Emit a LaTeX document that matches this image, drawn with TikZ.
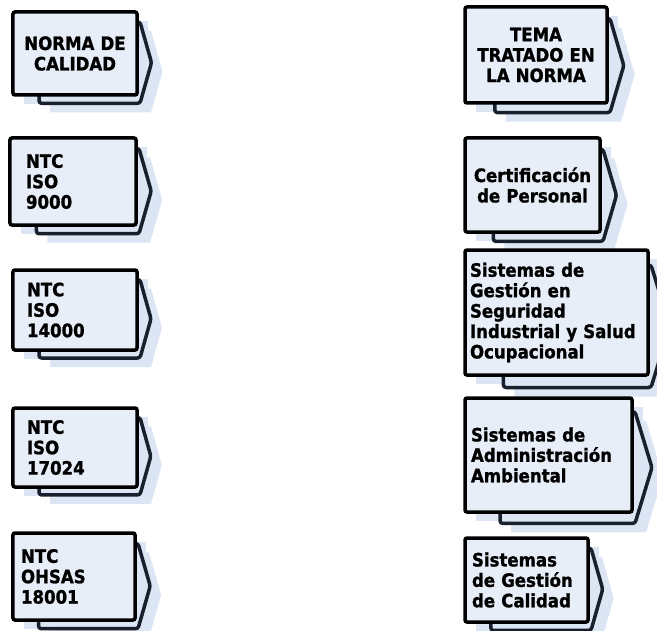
\documentclass[tikz,border=0pt]{standalone}
\usepackage{fontspec}
\setmainfont[BoldFeatures={FakeBold=1.2}]{DejaVu Sans Condensed}

\definecolor{boxfill}{RGB}{232,238,248}
\definecolor{chevfill}{RGB}{220,229,243}
\definecolor{chevline}{RGB}{24,32,46}
\definecolor{shadowfill}{RGB}{220,229,244}

\tikzset{
  cardbox/.style={draw=black, line width=3.5bp, fill=boxfill, rounded corners=2bp,
    inner ysep=0pt, font=\bfseries\fontsize{18.5}{20.5}\selectfont},
  chevron/.style={draw=chevline, line width=3.5bp, fill=chevfill, rounded corners=2.5bp,
    line join=round},
  dropshade/.style={fill=shadowfill},
}

% #1 name, #2-#5 box corners (x0,y0,x1,y1), #6 alignment, #7 side padding, #8 label
\newcommand\normcard[8]{%
  \pgfmathsetmacro\cW{#4-#2}%
  \pgfmathsetmacro\cH{#5-#3}%
  \pgfmathsetmacro\cL{#2+0.21*\cW}%
  \pgfmathsetmacro\cT{#3+0.12*\cH}%
  \pgfmathsetmacro\cR{#4+3}%
  \pgfmathsetmacro\cX{#4+0.175*\cH}%
  \pgfmathsetmacro\cB{#5+0.1*\cH}%
  \pgfmathsetmacro\cM{(\cT+\cB)/2}%
  \pgfmathsetmacro\cTW{\cW-2*#7}%
  \begin{scope}[shift={(11,9)}]
    \fill[dropshade] (#2,#3) rectangle (#4,#5);
    \fill[dropshade] (\cL,\cT) -- (\cR,\cT) -- (\cX,\cM) -- (\cR,\cB) -- (\cL,\cB) -- cycle;
  \end{scope}
  \draw[chevron] (\cL,\cT) -- (\cR,\cT) -- (\cX,\cM) -- (\cR,\cB) -- (\cL,\cB) -- cycle;
  \node[cardbox, minimum width=\cW bp, minimum height=\cH bp, inner xsep=#7bp,
        text width=\cTW bp, align=#6] (#1) at ({(#2+#4)/2},{(#3+#5)/2}) {#8};
}

\begin{document}
\begin{tikzpicture}[x=1bp, y=-1bp]
  \useasboundingbox (0,0) rectangle (657,631);
  \clip (0,0) rectangle (657,631);

  % quality standards
  \normcard{norma}{13}{12}{137}{95}{center}{4}{NORMA DE\\CALIDAD}
  \normcard{iso9000}{10}{138}{136}{225}{left}{16}{NTC\\ISO\\9000}
  \normcard{iso14000}{13}{270}{137}{350}{left}{14}{NTC\\ISO\\14000}
  \normcard{iso17024}{13}{408}{137}{487}{left}{14}{NTC\\ISO\\17024}
  \normcard{ohsas}{13}{533}{135}{620}{left}{8}{NTC\\OHSAS\\18001}

  % topics covered by each standard
  \normcard{tema}{465}{7}{607}{103}{center}{4}{TEMA\\TRATADO EN\\LA NORMA}
  \normcard{cert}{465}{138}{600}{232}{center}{3}{Certificación\\de Personal}
  \normcard{seg}{465}{250}{648}{375}{left}{5}{Sistemas de\\Gestión en\\Seguridad\\Industrial y Salud\\Ocupacional}
  \normcard{amb}{465}{398}{632}{512}{left}{6}{Sistemas de\\Administración\\Ambiental}
  \normcard{cal}{465}{538}{588}{622}{left}{7}{Sistemas\\de Gestión\\de Calidad}
\end{tikzpicture}
\end{document}
